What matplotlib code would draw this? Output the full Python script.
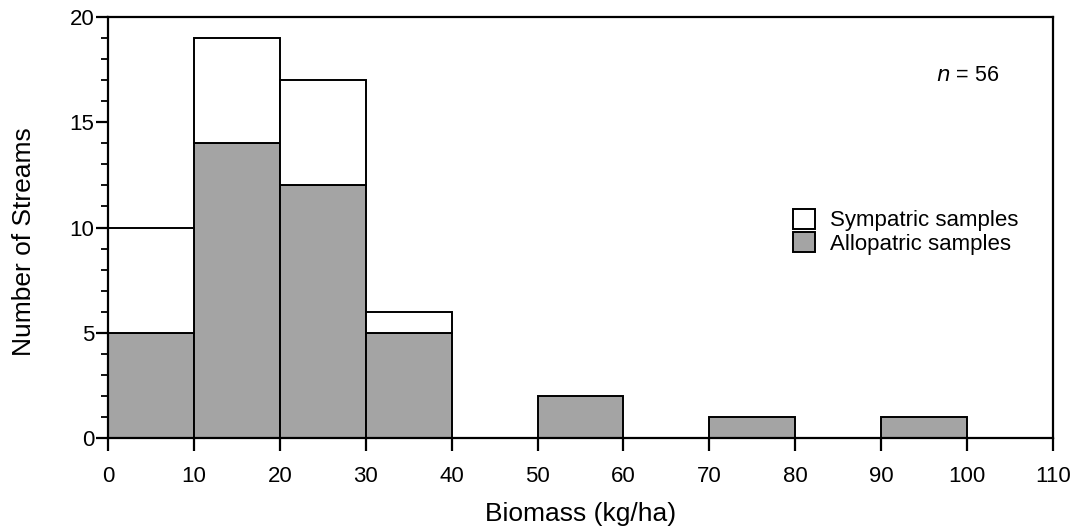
import matplotlib
matplotlib.use("Agg")
import matplotlib.pyplot as plt
import numpy as np

# bin left edges (kg/ha) and counts
bin_left = [0, 10, 20, 30, 40, 50, 60, 70, 80, 90]
allopatric = [5, 14, 12, 5, 0, 2, 0, 1, 0, 1]
sympatric = [5, 5, 5, 1, 0, 0, 0, 0, 0, 0]
x_ticks = [0, 10, 20, 30, 40, 50, 60, 70, 80, 90, 100, 110]
y_ticks = [0, 5, 10, 15, 20]
n_total = 56

plt.rcParams['font.family'] = ['Liberation Sans', 'DejaVu Sans']

fig = plt.figure(figsize=(10.76, 5.31), dpi=100)
ax = fig.add_axes([0.1004, 0.175, 0.8782, 0.793])

left = np.array(bin_left)
allo = np.array(allopatric)
symp = np.array(sympatric)

keep = allo > 0
ax.bar(left[keep], allo[keep], width=10, align='edge', color='#a4a4a4',
       edgecolor='black', linewidth=1.4, label='Allopatric samples', zorder=2)
keep2 = symp > 0
ax.bar(left[keep2], symp[keep2], width=10, bottom=allo[keep2], align='edge',
       color='white', edgecolor='black', linewidth=1.4, label='Sympatric samples', zorder=2)

ax.set_xlim(0, 110)
ax.set_ylim(0, 20)
ax.set_xticks(x_ticks)
ax.set_yticks(y_ticks)
ax.set_yticks(np.arange(0, 21, 1), minor=True)
ax.tick_params(axis='both', which='major', direction='out', length=9, width=1.6,
               labelsize=16)
ax.tick_params(axis='x', which='major', pad=11)
ax.tick_params(axis='y', which='major', pad=1)
ax.tick_params(axis='y', which='minor', direction='out', length=5, width=1.3)
for s in ax.spines.values():
    s.set_linewidth(1.6)

ax.set_xlabel('Biomass (kg/ha)', fontsize=19, labelpad=11)
ax.set_ylabel('Number of Streams', fontsize=19)
ax.yaxis.set_label_coords(-0.076, 0.466)

ax.text(0.91, 0.862, r'$n$ = %d' % n_total, transform=ax.transAxes,
        fontsize=15.5, ha='center', va='center')

h, l = ax.get_legend_handles_labels()
ax.legend(h[::-1], l[::-1], loc='center left', bbox_to_anchor=(0.715, 0.49),
          frameon=False, fontsize=16, handlelength=1.0, handleheight=1.0,
          handletextpad=0.7, labelspacing=0.05, borderaxespad=0)

fig.savefig('out.png', dpi=100)
